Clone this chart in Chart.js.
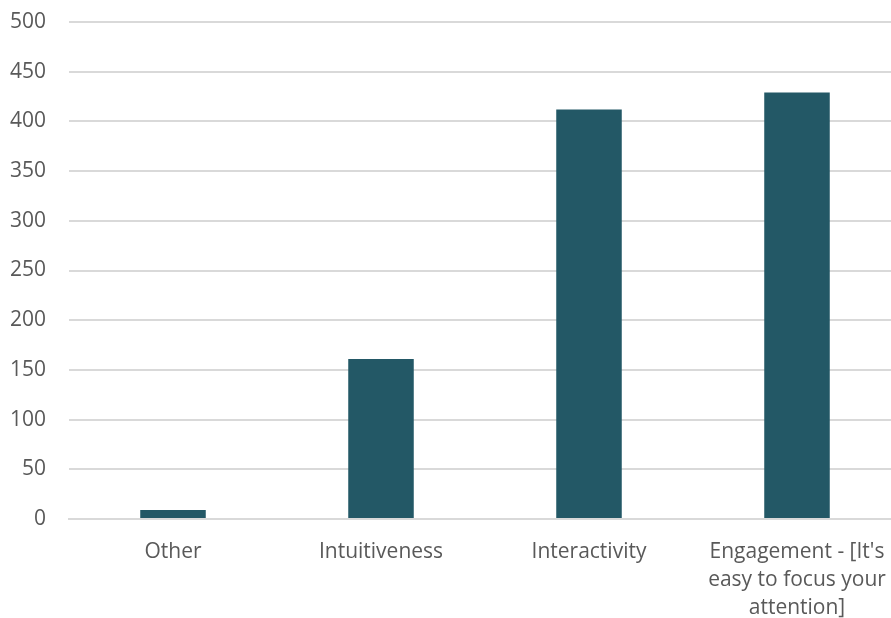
<!DOCTYPE html>
<html>
<head>
<meta charset="utf-8">
<script src="https://cdn.jsdelivr.net/npm/chart.js@4/dist/chart.umd.min.js"></script>
<style>
  html, body { margin: 0; padding: 0; background: #fff; overflow: hidden; }
  #wrap { width: 901px; height: 618px; position: relative; }
</style>
</head>
<body>
<div id="wrap"><canvas id="c"></canvas></div>
<script>
const categories = [
  'Other',
  'Intuitiveness',
  'Interactivity',
  ["Engagement - [It's", 'easy to focus your', 'attention]']
];
const counts = [9, 161, 412, 429];
const yTicks = [0, 50, 100, 150, 200, 250, 300, 350, 400, 450, 500];

const textColor = '#595959';
const gridColor = '#d9d9d9';
const barColor = '#235866';
const labelFont = { family: 'Open Sans', size: 21, lineHeight: 1.33 };

new Chart(document.getElementById('c'), {
  type: 'bar',
  data: {
    labels: categories,
    datasets: [{
      data: counts,
      backgroundColor: barColor,
      barPercentage: 1,
      categoryPercentage: 0.315
    }]
  },
  options: {
    responsive: true,
    maintainAspectRatio: false,
    animation: false,
    layout: { padding: { top: 22, left: 0, right: 0, bottom: 0 } },
    plugins: { legend: { display: false }, tooltip: { enabled: false } },
    scales: {
      x: {
        grid: { display: false, drawTicks: false },
        border: { display: true, color: gridColor, width: 2 },
        ticks: {
          color: textColor,
          font: labelFont,
          padding: 19,
          maxRotation: 0,
          autoSkip: false
        },
        afterFit: (axis) => {
          axis.height = 99;
          axis.paddingLeft = 0;
          axis.paddingRight = 0;
        }
      },
      y: {
        min: 0,
        max: 500,
        afterBuildTicks: (axis) => { axis.ticks = yTicks.map(v => ({ value: v })); },
        grid: { color: gridColor, lineWidth: 2, drawTicks: false },
        border: { display: false },
        ticks: {
          color: textColor,
          font: { family: 'Open Sans', size: 21 },
          padding: 23
        },
        afterFit: (axis) => {
          axis.width = 69;
          axis.paddingTop = 0;
          axis.paddingBottom = 0;
        }
      }
    }
  }
});
</script>
</body>
</html>
